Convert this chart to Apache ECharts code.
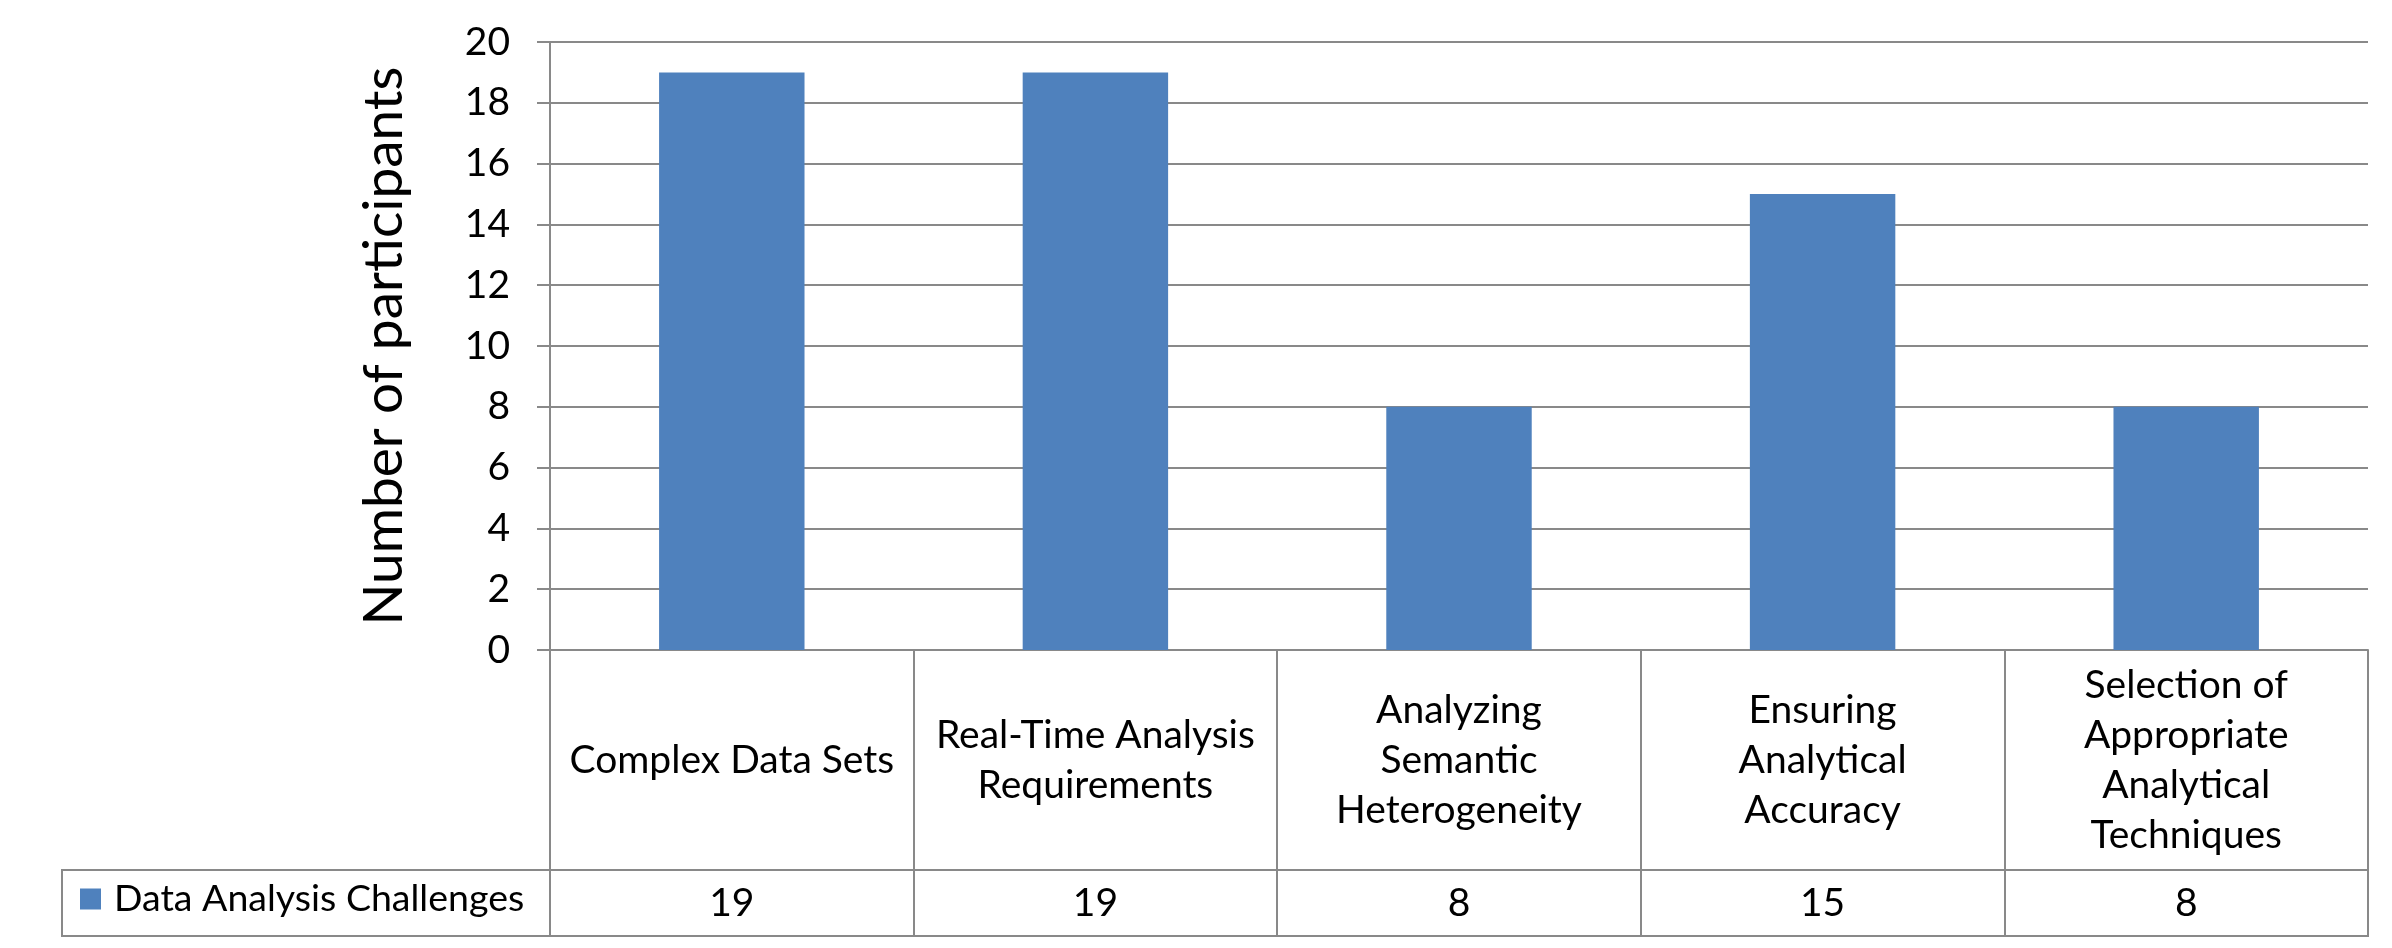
<!DOCTYPE html>
<html><head><meta charset="utf-8">
<script src="https://cdn.jsdelivr.net/npm/echarts@6/dist/echarts.min.js"></script>
<style>html,body{margin:0;padding:0;background:#fff}#c{width:2392px;height:948px}</style>
</head><body><div id="c"></div>
<script>
// ---- data ----
const categories = ['Complex Data Sets', 'Real-Time Analysis Requirements', 'Analyzing Semantic Heterogeneity', 'Ensuring Analytical Accuracy', 'Selection of Appropriate Analytical Techniques'];
const categoryLabels = ['Complex Data Sets', 'Real-Time Analysis\nRequirements', 'Analyzing\nSemantic\nHeterogeneity', 'Ensuring\nAnalytical\nAccuracy', 'Selection of\nAppropriate\nAnalytical\nTechniques'];
const seriesName = 'Data Analysis Challenges';
const values = [19, 19, 8, 15, 8];
const yMin = 0, yMax = 20, yInterval = 2;
const yAxisTitle = 'Number of participants';

// ---- layout / style ----
const W = 2392, H = 948;
const L = 550, R = 2368, T = 42, B = 650;
const ROW1 = 220, ROW2 = 66;
const TABLE_LEFT = 62;
const GRAY = '#898989';
const BLUE = '#4F81BD';
const FONT = 'Lato';
const FS = 39;

const chart = echarts.init(document.getElementById('c'), null, {renderer: 'canvas'});
chart.setOption({
  backgroundColor: '#fff',
  animation: false,
  textStyle: {fontFamily: FONT},
  grid: {left: L, right: W - R, top: T, bottom: H - B},
  legend: {
    data: [seriesName], left: 80, top: B + ROW1 + ROW2 / 2 - 23, padding: 0,
    icon: 'rect', itemWidth: 21, itemHeight: 21,
    textStyle: {fontSize: 37.5, color: '#000', fontFamily: FONT, padding: [0, 0, 0, 8]}
  },
  xAxis: [
    {
      type: 'category', data: categories, position: 'bottom',
      axisLine: {show: true, lineStyle: {color: GRAY, width: 2}},
      axisTick: {show: true, length: ROW1 + ROW2, lineStyle: {color: GRAY, width: 2}},
      axisLabel: {
        interval: 0, margin: ROW1 / 2, verticalAlign: 'middle', align: 'center',
        fontSize: FS, lineHeight: 50, color: '#000', fontFamily: FONT,
        formatter: (v, i) => categoryLabels[i]
      },
      splitLine: {show: false}
    },
    {
      type: 'category', data: categories, position: 'bottom', offset: ROW1,
      axisLine: {show: false}, axisTick: {show: false},
      axisLabel: {
        interval: 0, margin: ROW2 / 2, verticalAlign: 'middle', align: 'center',
        fontSize: FS, color: '#000', fontFamily: FONT,
        formatter: (v, i) => String(values[i])
      },
      splitLine: {show: false}
    }
  ],
  yAxis: {
    type: 'value', min: yMin, max: yMax, interval: yInterval,
    name: yAxisTitle, nameLocation: 'middle', nameGap: 138,
    nameTextStyle: {fontSize: 55, color: '#000', fontFamily: FONT},
    axisLine: {show: true, lineStyle: {color: GRAY, width: 2}},
    axisTick: {show: true, length: 13, lineStyle: {color: GRAY, width: 2}},
    axisLabel: {fontSize: FS, color: '#000', margin: 40, fontFamily: FONT},
    splitLine: {show: true, lineStyle: {color: GRAY, width: 2}}
  },
  graphic: [{
    type: 'rect', z: 10,
    shape: {x: TABLE_LEFT, y: B + ROW1, width: R - TABLE_LEFT, height: ROW2},
    style: {fill: 'none', stroke: GRAY, lineWidth: 2}
  }],
  series: [{
    name: seriesName, type: 'bar', data: values, barWidth: '40%', xAxisIndex: 0,
    itemStyle: {color: BLUE}
  }]
});
</script></body></html>
